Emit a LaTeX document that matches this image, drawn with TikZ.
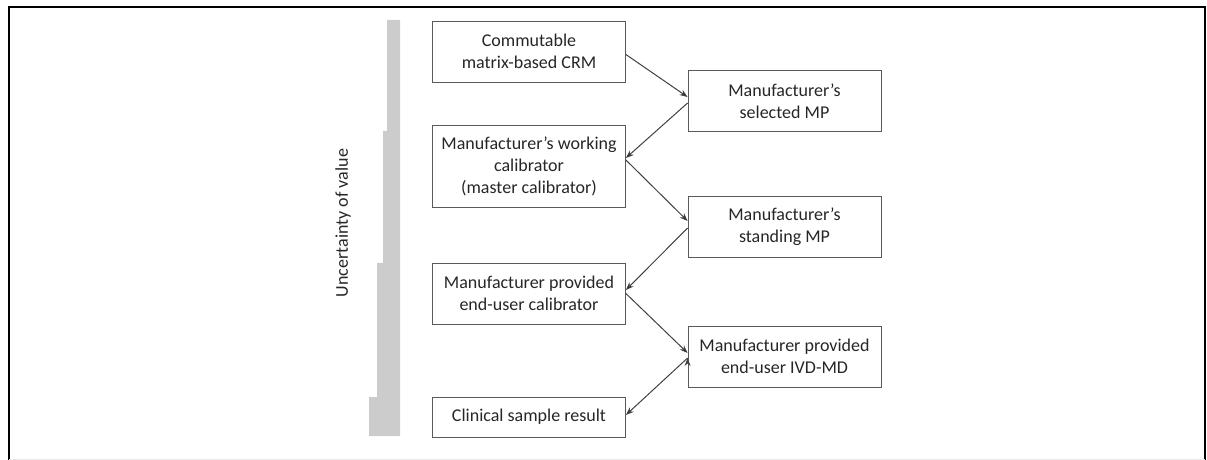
\documentclass[tikz,border=0pt]{standalone}
\usepackage{fontspec}
\setmainfont{Carlito}
\usetikzlibrary{positioning, arrows.meta}

\begin{document}
\begin{tikzpicture}[x=0.5pt, y=-0.5pt, box/.style={draw=black!65, shape=rectangle, minimum width=96.5pt, minimum height=30.5pt, inner ysep=0pt, align=center, font=\fontsize{9}{11}\selectfont}, every node/.style={text=black!85}, flow/.style={-{Stealth[length=4pt,width=3pt]}, draw=black!75, line width=0.5pt}]

    \useasboundingbox (0,0) rectangle (1207,460);
    % outer frame (open at the bottom)
    \draw[line width=1.3pt] (9,460) -- (9,7) -- (1205,7) -- (1205,460);
    \draw[black!8] (9,459) -- (1205,459);

    % staircase bar for the uncertainty
    \fill[black!20] (387,20) -- (400,20) -- (400,436) -- (369,436) -- (369,397) -- (377,397)
        -- (377,263) -- (383,263) -- (383,131) -- (387,131) -- cycle;
    \node[rotate=90, font=\fontsize{9}{11}\selectfont] (unc) at (343,223) {Uncertainty of value};

    % Define the materials (nodes), left column
    \node[box] (crm) at (529,51.5) {Commutable\\matrix-based CRM};
    \node[box, minimum height=41pt] (workcal) at (529,166) {Manufacturer’s working\\calibrator\\(master calibrator)};
    \node[box] (enduser) at (529,293.5) {Manufacturer provided\\end-user calibrator};
    \node[box, minimum height=20pt] (result) at (529,417) {Clinical sample result};
    % procedures, right column
    \node[box] (selmp) at (784.5,101) {Manufacturer’s\\selected MP};
    \node[box] (standmp) at (784.5,227) {Manufacturer’s\\standing MP};
    \node[box] (ivdmd) at (784.5,356.5) {Manufacturer provided\\end-user IVD-MD};

    % Define the value transfers (edges)
    \path[flow]
    ([yshift=-1.5pt]crm.east) edge ([yshift=2pt]selmp.west)
    ([yshift=-1pt]selmp.west) edge ([yshift=4pt]workcal.east)
    ([yshift=3pt]workcal.east) edge ([yshift=3pt]standmp.west)
    ([yshift=-0.5pt]standmp.west) edge ([yshift=1.75pt]enduser.east)
    (enduser.east) edge ([yshift=1.75pt]ivdmd.west)
    ([yshift=-0.75pt]ivdmd.west) edge ([yshift=1pt]result.east);
\end{tikzpicture}
\end{document}
